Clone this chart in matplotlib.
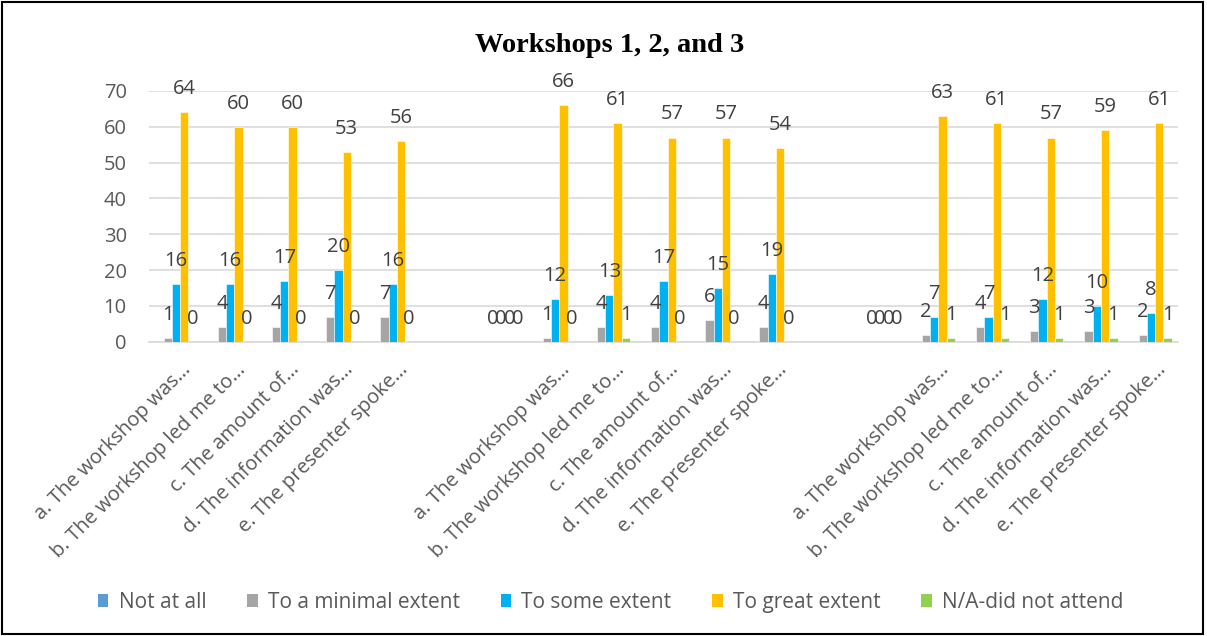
import numpy as np
import matplotlib
matplotlib.use("Agg")
import matplotlib.pyplot as plt
from matplotlib.patches import Rectangle, Patch
from matplotlib.transforms import ScaledTranslation

plt.rcParams['font.family'] = ['Open Sans', 'DejaVu Sans']

nan = np.nan

items = [
    "a. The workshop was\u2026",
    "b. The workshop led me to\u2026",
    "c. The amount of\u2026",
    "d. The information was\u2026",
    "e. The presenter spoke\u2026",
]
# three workshops, two blank slots between each block
categories = items + ["", ""] + items + ["", ""] + items

series_names = ["Not at all", "To a minimal extent", "To some extent",
                "To great extent", "N/A-did not attend"]
colors = ["#5B9BD5", "#A5A5A5", "#00B0F0", "#FFC000", "#92D050"]

not_at_all = [nan] * 19
minimal = [1, 4, 4, 7, 7, nan, 0, 1, 4, 4, 6, 4, nan, 0, 2, 4, 3, 3, 2]
some = [16, 16, 17, 20, 16, nan, 0, 12, 13, 17, 15, 19, nan, 0, 7, 7, 12, 10, 8]
great = [64, 60, 60, 53, 56, nan, 0, 66, 61, 57, 57, 54, nan, 0, 63, 61, 57, 59, 61]
na_attend = [0, 0, 0, 0, 0, nan, 0, 0, 1, 0, 0, 0, nan, 0, 1, 1, 1, 1, 1]

data = [not_at_all, minimal, some, great, na_attend]

fig = plt.figure(figsize=(12.07, 6.36), dpi=100)
ax = fig.add_axes([0.1234, 0.4627, 0.8526, 0.3943])

x = np.arange(len(categories))
w = 0.153
text_col = "#404040"

for i, (vals, col) in enumerate(zip(data, colors)):
    vals = np.array(vals, dtype=float)
    xs = x + (i - 2) * w
    ax.bar(xs, np.nan_to_num(vals), width=w, color=col,
           edgecolor="white", linewidth=0.4, zorder=3)
    for xi, v in zip(xs, vals):
        if np.isnan(v):
            continue
        ax.annotate(f"{int(v)}", (xi, v), xytext=(0, 13),
                    textcoords="offset points", ha="center", va="baseline",
                    fontsize=14.5, color=text_col, zorder=4)

ax.set_xlim(-0.5, len(categories) - 0.5)
ax.set_ylim(0, 70)
ax.set_yticks(range(0, 71, 10))
ax.yaxis.grid(True, color="#D9D9D9", linewidth=1.2, zorder=0)
ax.set_axisbelow(True)
for s in ["top", "right", "left"]:
    ax.spines[s].set_visible(False)
ax.spines["bottom"].set_color("#D9D9D9")
ax.spines["bottom"].set_linewidth(1.2)
ax.tick_params(axis="both", length=0, colors="#595959", labelsize=14.5)
ax.tick_params(axis="y", pad=16)
ax.tick_params(axis="x", pad=13)

ax.set_xticks(x)
ax.set_xticklabels(categories, rotation=45, ha="right",
                   rotation_mode="anchor", fontsize=14.5, color="#595959")
shift = ScaledTranslation(5 / 100, 0, fig.dpi_scale_trans)
for lbl in ax.get_xticklabels():
    lbl.set_transform(lbl.get_transform() + shift)

fig.text(0.505, 0.928, "Workshops 1, 2, and 3", ha="center", va="center",
         fontsize=20.5, fontweight="bold", family="Liberation Serif",
         color="black")

handles = [Patch(facecolor=c, edgecolor="none") for c in colors]
fig.legend(handles, series_names, loc="center", ncol=5,
           bbox_to_anchor=(0.506, 0.053), frameon=False, fontsize=15,
           handlelength=0.5, handleheight=0.6, handletextpad=0.5,
           columnspacing=1.95, labelcolor="#595959")

fig.patches.append(Rectangle((0.002, 0.003), 0.995, 0.994,
                             transform=fig.transFigure, fill=False,
                             edgecolor="black", linewidth=1.5))

fig.savefig("out.png", dpi=100)
